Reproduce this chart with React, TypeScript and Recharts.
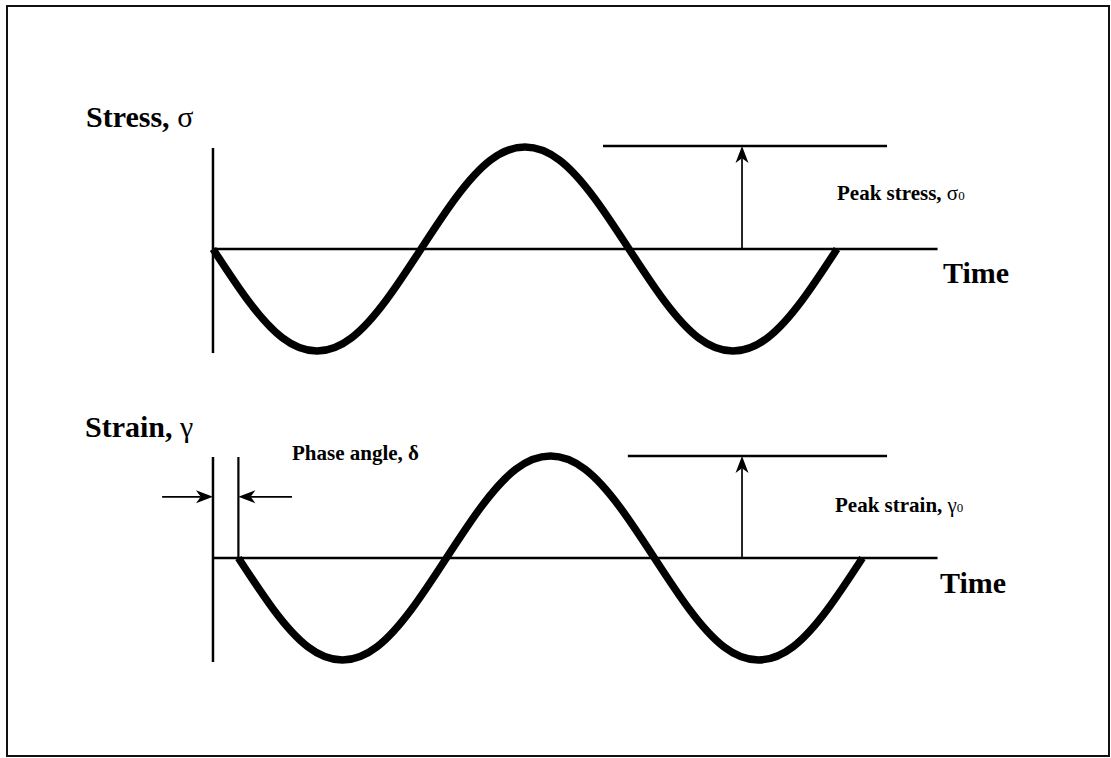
import { ComposedChart, Line, XAxis, YAxis, ReferenceLine } from 'recharts';

const stressPhase = [0, 30, 60, 90, 120, 150, 180, 210, 240, 270, 300, 330, 360, 390, 420, 450, 480, 510, 540];
const stressValues = [0, -0.5, -0.87, -1, -0.87, -0.5, 0, 0.5, 0.87, 1, 0.87, 0.5, 0, -0.5, -0.87, -1, -0.87, -0.5, 0];
const strainPhase = [22, 52, 82, 112, 142, 172, 202, 232, 262, 292, 322, 352, 382, 412, 442, 472, 502, 532, 562];
const strainValues = [0, -0.5, -0.87, -1, -0.87, -0.5, 0, 0.5, 0.87, 1, 0.87, 0.5, 0, -0.5, -0.87, -1, -0.87, -0.5, 0];

const PHASE_LAG = 22;
const AXIS_END = 627;

const W = 1111;
const H = 758;
const X_DOMAIN: [number, number] = [-184.3, 777.1];
const STRESS_DOMAIN: [number, number] = [-4.99, 2.441];
const STRAIN_DOMAIN: [number, number] = [-1.961, 5.471];

const FONT = '"Liberation Serif", "Times New Roman", serif';

const stressData = stressPhase.map((t, i) => ({ t, v: stressValues[i] }));
const strainData = strainPhase.map((t, i) => ({ t, v: strainValues[i] }));

function Arrow(props: any) {
  const { x1, y1, x2, y2 } = props;
  const ang = Math.atan2(y2 - y1, x2 - x1);
  const len = 17;
  const half = 6.5;
  const bx = x2 - Math.cos(ang) * len;
  const by = y2 - Math.sin(ang) * len;
  const nx = -Math.sin(ang) * half;
  const ny = Math.cos(ang) * half;
  const mx = x2 - Math.cos(ang) * len * 0.72;
  const my = y2 - Math.sin(ang) * len * 0.72;
  return (
    <g>
      <line x1={x1} y1={y1} x2={mx} y2={my} stroke="#000" strokeWidth={1.7} />
      <path d={`M${x2},${y2} L${bx + nx},${by + ny} L${mx},${my} L${bx - nx},${by - ny} Z`} fill="#000" />
    </g>
  );
}

export default function App() {
  return (
    <div style={{ position: 'absolute', left: 0, top: 0, width: W, height: H, background: '#fff' }}>
      <div
        style={{
          position: 'absolute',
          left: 6,
          top: 5,
          width: 1100,
          height: 748,
          border: '2.5px solid #111',
        }}
      />
      <div style={{ position: 'absolute', left: 0, top: 0 }}>
        <ComposedChart width={W} height={H} margin={{ top: 0, right: 0, bottom: 0, left: 0 }}>
          <XAxis dataKey="t" type="number" domain={X_DOMAIN} allowDataOverflow hide />
          <YAxis yAxisId="stress" type="number" domain={STRESS_DOMAIN} allowDataOverflow hide />
          <YAxis yAxisId="strain" type="number" domain={STRAIN_DOMAIN} allowDataOverflow hide />

          {/* stress panel */}
          <ReferenceLine yAxisId="stress" segment={[{ x: 0, y: 0 }, { x: AXIS_END, y: 0 }]} stroke="#000" strokeWidth={2.5} />
          <ReferenceLine yAxisId="stress" segment={[{ x: 0, y: 0.99 }, { x: 0, y: -1.02 }]} stroke="#000" strokeWidth={2.5} />
          <ReferenceLine yAxisId="stress" segment={[{ x: 337.5, y: 1.01 }, { x: 583.3, y: 1.01 }]} stroke="#000" strokeWidth={2.5} />
          <ReferenceLine yAxisId="stress" segment={[{ x: 457.8, y: 0 }, { x: 457.8, y: 1.01 }]} shape={Arrow} />
          <Line
            data={stressData}
            dataKey="v"
            yAxisId="stress"
            type="natural"
            stroke="#000"
            strokeWidth={7.5}
            dot={false}
            activeDot={false}
            isAnimationActive={false}
          />

          {/* strain panel */}
          <ReferenceLine yAxisId="strain" segment={[{ x: 0, y: 0 }, { x: AXIS_END, y: 0 }]} stroke="#000" strokeWidth={2.5} />
          <ReferenceLine yAxisId="strain" segment={[{ x: 0, y: 0.99 }, { x: 0, y: -1.02 }]} stroke="#000" strokeWidth={2.5} />
          <ReferenceLine yAxisId="strain" segment={[{ x: PHASE_LAG, y: 0.99 }, { x: PHASE_LAG, y: 0 }]} stroke="#000" strokeWidth={2.2} />
          <ReferenceLine yAxisId="strain" segment={[{ x: 359, y: 1.0 }, { x: 583.3, y: 1.0 }]} stroke="#000" strokeWidth={2.5} />
          <ReferenceLine yAxisId="strain" segment={[{ x: 457.8, y: 0 }, { x: 457.8, y: 1.0 }]} shape={Arrow} />
          <ReferenceLine yAxisId="strain" segment={[{ x: -44, y: 0.6 }, { x: 0, y: 0.6 }]} shape={Arrow} />
          <ReferenceLine yAxisId="strain" segment={[{ x: 68.4, y: 0.6 }, { x: PHASE_LAG, y: 0.6 }]} shape={Arrow} />
          <Line
            data={strainData}
            dataKey="v"
            yAxisId="strain"
            type="natural"
            stroke="#000"
            strokeWidth={7.5}
            dot={false}
            activeDot={false}
            isAnimationActive={false}
          />

          <g fontFamily={FONT} fill="#000">
            <text x={86} y={127} fontSize={30} fontWeight="bold">
              Stress,<tspan fontWeight="normal"> σ</tspan>
            </text>
            <text x={943} y={283} fontSize={30} fontWeight="bold">Time</text>
            <text x={837} y={200} fontSize={21} fontWeight="bold">
              Peak stress,<tspan fontWeight="normal"> σ</tspan>
              <tspan fontWeight="normal" fontSize={13}>0</tspan>
            </text>

            <text x={85} y={437} fontSize={30} fontWeight="bold">
              Strain,<tspan fontWeight="normal"> γ</tspan>
            </text>
            <text x={292} y={460} fontSize={21} fontWeight="bold">Phase angle, δ</text>
            <text x={940} y={593} fontSize={30} fontWeight="bold">Time</text>
            <text x={835} y={512} fontSize={21} fontWeight="bold">
              Peak strain,<tspan fontWeight="normal"> γ</tspan>
              <tspan fontWeight="normal" fontSize={13}>0</tspan>
            </text>
          </g>
        </ComposedChart>
      </div>
    </div>
  );
}
